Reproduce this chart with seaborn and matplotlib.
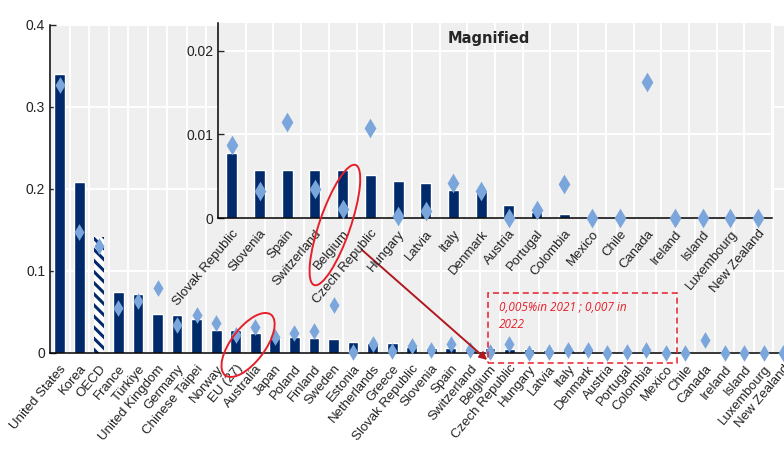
import numpy as np
import pandas as pd
import seaborn as sns
import matplotlib.pyplot as plt
from matplotlib import transforms
from matplotlib.patches import Ellipse, Rectangle

countries = ["United States", "Korea", "OECD", "France", "Türkiye", "United Kingdom",
             "Germany", "Chinese Taipei", "Norway", "EU (27)", "Australia", "Japan",
             "Poland", "Finland", "Sweden", "Estonia", "Netherlands", "Greece",
             "Slovak Republic", "Slovenia", "Spain", "Switzerland", "Belgium",
             "Czech Republic", "Hungary", "Latvia", "Italy", "Denmark", "Austria",
             "Portugal", "Colombia", "Mexico", "Chile", "Canada", "Ireland", "Island",
             "Luxembourg", "New Zealand"]
bar_vals = [0.340, 0.208, 0.142, 0.075, 0.072, 0.048,
            0.046, 0.042, 0.028, 0.028, 0.024, 0.018,
            0.019, 0.018, 0.017, 0.013, 0.012, 0.012,
            0.0078, 0.0058, 0.0058, 0.0058, 0.0057,
            0.0052, 0.0044, 0.0042, 0.0034, 0.0033, 0.0015,
            0.0007, 0.0005, 0.0002, 0.0, 0.0, 0.0, 0.0,
            0.0, 0.0]
diamond_vals = [0.327, 0.148, 0.130, 0.055, 0.063, 0.079,
                0.034, 0.046, 0.036, 0.022, 0.032, 0.019,
                0.025, 0.027, 0.058, 0.001, 0.011, 0.003,
                0.0088, 0.0032, 0.0115, 0.0035, 0.0011,
                0.0108, 0.0002, 0.0008, 0.0042, 0.0032, 0.0,
                0.0009, 0.0041, 0.0, 0.0, 0.0163, 0.0, 0.0,
                0.0, 0.0]
magnified_from = "Slovak Republic"

main_ticks = [0, 0.1, 0.2, 0.3, 0.4]
inset_ticks = [0, 0.01, 0.02]
note_text = "0,005%in 2021 ; 0,007 in\n2022"

navy = "#002a6a"
light = "#7ba6dc"
bg = "#efefef"
red = "#e5202a"

df = pd.DataFrame({"country": countries, "bar": bar_vals, "diamond": diamond_vals})
mag = df.iloc[countries.index(magnified_from):].reset_index(drop=True)

sns.set_style("white")
plt.rcParams["font.family"] = ["Liberation Sans Narrow", "Liberation Sans", "DejaVu Sans"]
plt.rcParams["hatch.linewidth"] = 2.2
plt.rcParams["hatch.color"] = navy


def style_axes(a, n, ticks, fmt):
    a.set_facecolor(bg)
    a.set_xlim(-0.5, n - 0.5)
    a.set_xticks(np.arange(n + 1) - 0.5, minor=True)
    a.grid(False)
    a.grid(which="minor", axis="x", color="white", lw=1.4)
    a.set_yticks(ticks)
    a.set_yticklabels([fmt(t) for t in ticks])
    a.grid(which="major", axis="y", color="white", lw=1.4)
    a.set_axisbelow(True)
    for s in ["top", "right"]:
        a.spines[s].set_visible(False)
    for s in ["left", "bottom"]:
        a.spines[s].set_color("black")
        a.spines[s].set_linewidth(1.1)
    a.tick_params(axis="x", which="major", length=0, pad=7, labelsize=9.5, labelcolor="#222222")
    a.tick_params(axis="x", which="minor", length=4, direction="in", width=1, color="black")
    a.tick_params(axis="y", which="major", length=4, direction="in", width=1,
                  labelsize=10, labelcolor="#222222", left=True)
    plt.setp(a.get_xticklabels(), rotation=50, ha="right", rotation_mode="anchor")
    a.set_xlabel("")
    a.set_ylabel("")


fig = plt.figure(figsize=(7.84, 4.5), dpi=100)

# main chart
ax = fig.add_axes([50 / 784, 1 - 353 / 450, 743 / 784, 328 / 450])
sns.barplot(data=df, x="country", y="bar", color=navy, saturation=1, width=0.55, ax=ax)
oecd_bar = ax.patches[countries.index("OECD")]
oecd_bar.set_facecolor("white")
oecd_bar.set_hatch("\\\\\\")
oecd_bar.set_edgecolor(navy)
oecd_bar.set_linewidth(0)
sns.stripplot(data=df, x="country", y="diamond", marker="d", color=light, size=8.5,
              jitter=False, linewidth=0, zorder=4, clip_on=False, ax=ax)
ax.set_ylim(0, 0.4)
style_axes(ax, len(countries), main_ticks, lambda t: "0" if t == 0 else f"{t:.1f}")

# magnified inset
axin = fig.add_axes([218 / 784, 1 - 218 / 450, 554 / 784, 195 / 450])
sns.barplot(data=mag, x="country", y="bar", color=navy, saturation=1, width=0.4, ax=axin)
sns.stripplot(data=mag, x="country", y="diamond", marker="d", color=light, size=10,
              jitter=False, linewidth=0, zorder=4, clip_on=False, ax=axin)
axin.set_ylim(0, 0.02335)
style_axes(axin, len(mag), inset_ticks, lambda t: "0" if t == 0 else f"{t:.2f}")
axin.text(0.489, 0.923, "Magnified", transform=axin.transAxes, ha="center", va="center",
          fontsize=10.5, fontweight="bold", family=["Liberation Sans Narrow", "DejaVu Sans"])

# red highlights
def ring(a, cx, cy, w, h, ang):
    tr = fig.dpi_scale_trans + transforms.ScaledTranslation(cx, cy, a.transData)
    e = Ellipse((0, 0), w, h, angle=ang, transform=tr, fill=False, ec=red, lw=1.4)
    fig.add_artist(e)

eu = countries.index("EU (27)")
ring(ax, eu + 0.63, 0.0098, 0.76, 0.34, 53)
bel = mag.index[mag["country"] == "Belgium"][0]
ring(axin, bel - 0.28, -0.00084, 1.27, 0.31, 71)

bel_main = countries.index("Belgium")
ax.annotate("", xy=(bel_main - 0.14, -0.0085), xycoords=ax.transData,
            xytext=(bel + 0.69, -0.0038), textcoords=axin.transData,
            arrowprops=dict(arrowstyle="-|>", color="#b01820", lw=1.4,
                            mutation_scale=11, shrinkA=0, shrinkB=0),
            annotation_clip=False, zorder=6)

ax.add_patch(Rectangle((bel_main - 0.09, -0.0122), 9.68, 0.0854, fill=False, ls=(0, (4, 2.5)),
                       ec=red, lw=1.1, clip_on=False, zorder=6))
ax.text(bel_main + 0.48, 0.064, note_text, color=red, style="italic", fontsize=8.5,
        family=["Open Sans", "DejaVu Sans"], va="top", ha="left", linespacing=1.45, zorder=6)

ax.set_xlim(-0.5, len(countries) - 0.5)
ax.set_ylim(0, 0.4)

fig.savefig("out.png", dpi=100)
